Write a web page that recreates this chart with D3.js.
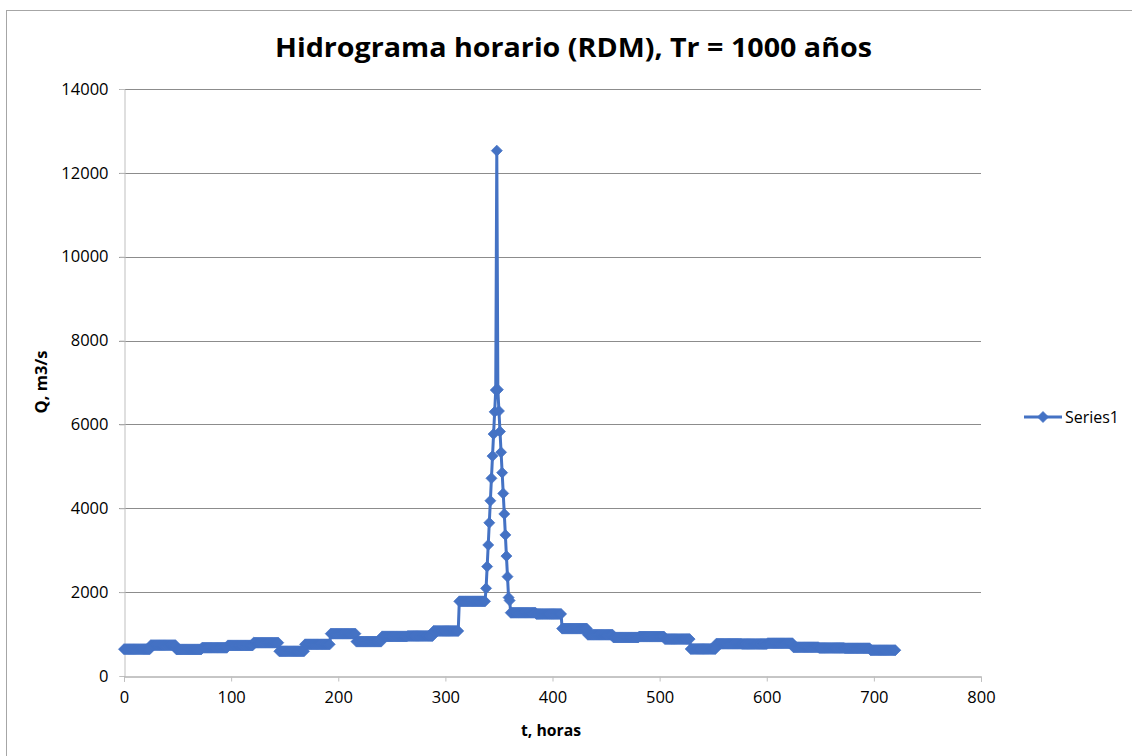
<!DOCTYPE html>
<html>
<head>
<meta charset="utf-8">
<script src="https://cdn.jsdelivr.net/npm/d3@7/dist/d3.min.js"></script>
<style>
  html, body { margin: 0; padding: 0; background: #fff; }
  svg { display: block; font-family: "Open Sans", "Noto Sans", sans-serif; }
</style>
</head>
<body>
<svg id="chart" width="1132" height="756"></svg>
<script>
// ---- Data ----
const chartTitle = "Hidrograma horario (RDM), Tr = 1000 años";
const xAxisTitle = "t, horas";
const yAxisTitle = "Q, m3/s";
const seriesName = "Series1";

// Daily discharge (m3/s), each held for 24 hourly steps; day 14 is the flood day (given hourly below)
const dailyQ = [640, 735, 635, 675, 730, 795, 590, 755, 1010, 820,
                945, 955, 1075, 1780, null, 1510, 1480, 1130, 985, 920,
                940, 880, 645, 770, 765, 780, 685, 670, 660, 615];
// Hourly discharge during the flood day, hours 337..360
const floodStartHour = 337;
const floodQ = [1780, 2090, 2610, 3125, 3655, 4180, 4715, 5245, 5770, 6300,
                6820, 12530, 6830, 6320, 5830, 5335, 4850, 4355, 3865, 3365,
                2860, 2370, 1870, 1800];
const lastHour = 720;

const xTicks = [0, 100, 200, 300, 400, 500, 600, 700, 800];
const yTicks = [0, 2000, 4000, 6000, 8000, 10000, 12000, 14000];

// ---- Build hourly series ----
const series = [];
for (let t = 0; t <= lastHour; t++) {
  let q;
  if (t >= floodStartHour && t < floodStartHour + floodQ.length) {
    q = floodQ[t - floodStartHour];
  } else {
    const day = t === 0 ? 0 : Math.floor((t - 1) / 24);
    q = dailyQ[day];
  }
  series.push({ t, q });
}

// ---- Layout ----
const svg = d3.select("#chart");
const W = 1132, H = 756;
const plot = { left: 124, right: 981, top: 89, bottom: 676 };
const color = "#4472C4";

const x = d3.scaleLinear().domain([0, 800]).range([plot.left, plot.right]);
const y = d3.scaleLinear().domain([0, 14000]).range([plot.bottom, plot.top]);

// chart border (only left/top visible in the reference)
svg.append("rect")
  .attr("x", 6.5).attr("y", 10.5)
  .attr("width", 1300).attr("height", 900)
  .attr("fill", "none").attr("stroke", "#a6a6a6").attr("stroke-width", 1);

// gridlines
svg.append("g")
  .selectAll("line")
  .data(yTicks.filter(d => d > 0))
  .join("line")
  .attr("x1", plot.left - 5).attr("x2", plot.right)
  .attr("y1", d => Math.round(y(d)) + 0.5).attr("y2", d => Math.round(y(d)) + 0.5)
  .attr("stroke", "#8c8c8c").attr("stroke-width", 1);

// y axis
const yAxis = d3.axisLeft(y).tickValues(yTicks).tickSize(5).tickPadding(11).tickFormat(d3.format("d"));
const gy = svg.append("g").attr("transform", `translate(${plot.left + 0.5},0)`).call(yAxis);
gy.select(".domain").attr("stroke", "#bfbfbf");
gy.selectAll(".tick line").attr("stroke", "#bfbfbf");
gy.selectAll(".tick text").attr("font-size", 16.5).attr("fill", "#000")
  .attr("font-family", "'Open Sans', sans-serif");

// x axis
const xAxis = d3.axisBottom(x).tickValues(xTicks).tickSize(5).tickPadding(10).tickFormat(d3.format("d"));
const gx = svg.append("g").attr("transform", `translate(0,${Math.round(plot.bottom) + 0.5})`).call(xAxis);
gx.select(".domain").attr("stroke", "#8c8c8c");
gx.selectAll(".tick line").attr("stroke", "#bfbfbf");
gx.selectAll(".tick text").attr("font-size", 16.5).attr("fill", "#000")
  .attr("font-family", "'Open Sans', sans-serif");

// line
const line = d3.line().x(d => x(d.t)).y(d => y(d.q));
svg.append("path")
  .datum(series)
  .attr("d", line)
  .attr("fill", "none")
  .attr("stroke", color)
  .attr("stroke-width", 3)
  .attr("stroke-linejoin", "round");

// diamond markers
const diamond = "M0,-5.5L5.5,0L0,5.5L-5.5,0Z";
svg.append("g")
  .selectAll("path")
  .data(series)
  .join("path")
  .attr("d", diamond)
  .attr("transform", d => `translate(${x(d.t)},${y(d.q)})`)
  .attr("fill", color)
  .attr("stroke", color)
  .attr("stroke-width", 0.75);

// title
svg.append("text")
  .attr("x", 573.5).attr("y", 57)
  .attr("text-anchor", "middle")
  .attr("font-size", 27).attr("font-weight", "bold")
  .attr("textLength", 597).attr("lengthAdjust", "spacingAndGlyphs")
  .text(chartTitle);

// axis titles
svg.append("text")
  .attr("x", 551).attr("y", 736)
  .attr("text-anchor", "middle")
  .attr("font-size", 16).attr("font-weight", "bold")
  .attr("textLength", 60).attr("lengthAdjust", "spacingAndGlyphs")
  .text(xAxisTitle);

svg.append("text")
  .attr("transform", "translate(47,382) rotate(-90)")
  .attr("text-anchor", "middle")
  .attr("font-size", 16).attr("font-weight", "bold")
  .attr("textLength", 63).attr("lengthAdjust", "spacingAndGlyphs")
  .text(yAxisTitle);

// legend
const lg = svg.append("g").attr("transform", "translate(1024,417)");
lg.append("line").attr("x1", 0).attr("x2", 38).attr("y1", 0).attr("y2", 0)
  .attr("stroke", color).attr("stroke-width", 3);
lg.append("path").attr("d", diamond).attr("transform", "translate(19,0)")
  .attr("fill", color).attr("stroke", color).attr("stroke-width", 0.75);
lg.append("text").attr("x", 41).attr("y", 6)
  .attr("font-size", 16.5)
  .attr("textLength", 54).attr("lengthAdjust", "spacingAndGlyphs")
  .text(seriesName);
</script>
</body>
</html>
